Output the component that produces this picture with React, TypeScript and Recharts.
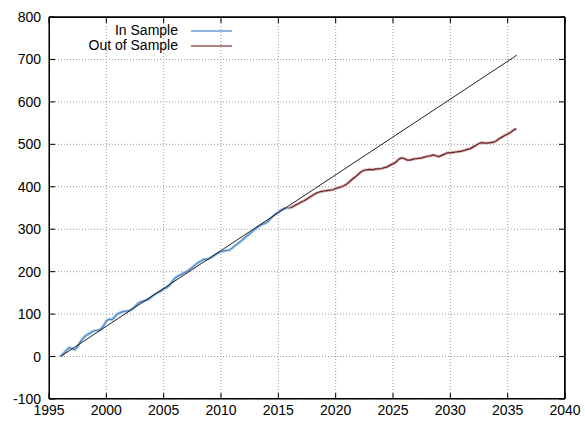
import { ComposedChart, Line, XAxis, YAxis, CartesianGrid, ReferenceLine } from "recharts";

const xTicks = [1995, 2000, 2005, 2010, 2015, 2020, 2025, 2030, 2035, 2040];
const yTicks = [-100, 0, 100, 200, 300, 400, 500, 600, 700, 800];

const inSampleYears = [
  1996.0, 1996.25, 1996.5, 1996.75, 1997.0, 1997.25, 1997.5, 1997.75, 1998.0, 1998.25, 1998.5, 1998.75,
  1999.0, 1999.25, 1999.5, 1999.75, 2000.0, 2000.25, 2000.5, 2000.75, 2001.0, 2001.25, 2001.5, 2001.75,
  2002.0, 2002.25, 2002.5, 2002.75, 2003.0, 2003.25, 2003.5, 2003.75, 2004.0, 2004.25, 2004.5, 2004.75,
  2005.0, 2005.25, 2005.5, 2005.75, 2006.0, 2006.25, 2006.5, 2006.75, 2007.0, 2007.25, 2007.5, 2007.75,
  2008.0, 2008.25, 2008.5, 2008.75, 2009.0, 2009.25, 2009.5, 2009.75, 2010.0, 2010.25, 2010.5, 2010.75,
  2011.0, 2011.25, 2011.5, 2011.75, 2012.0, 2012.25, 2012.5, 2012.75, 2013.0, 2013.25, 2013.5, 2013.75,
  2014.0, 2014.25, 2014.5, 2014.75, 2015.0, 2015.25, 2015.5, 2015.75, 2016.0,
];
const inSampleValues = [
  0, 7, 14, 21, 19, 16, 24, 35, 44, 50, 54, 58,
  61, 62, 64, 72, 84, 88, 87, 94, 101, 104, 106, 107,
  108, 112, 118, 125, 129, 131, 133, 136, 142, 147, 151, 154,
  159, 162, 168, 177, 185, 190, 193, 197, 200, 205, 210, 216,
  221, 225, 229, 229, 231, 235, 240, 244, 247, 249, 250, 251,
  256, 262, 267, 272, 278, 284, 289, 295, 301, 306, 310, 313,
  316, 323, 330, 336, 340, 345, 349, 350, 350,
];

const outSampleYears = [
  2016.0, 2016.25, 2016.5, 2016.75, 2017.0, 2017.25, 2017.5, 2017.75, 2018.0, 2018.25, 2018.5, 2018.75,
  2019.0, 2019.25, 2019.5, 2019.75, 2020.0, 2020.25, 2020.5, 2020.75, 2021.0, 2021.25, 2021.5, 2021.75,
  2022.0, 2022.25, 2022.5, 2022.75, 2023.0, 2023.25, 2023.5, 2023.75, 2024.0, 2024.25, 2024.5, 2024.75,
  2025.0, 2025.25, 2025.5, 2025.75, 2026.0, 2026.25, 2026.5, 2026.75, 2027.0, 2027.25, 2027.5, 2027.75,
  2028.0, 2028.25, 2028.5, 2028.75, 2029.0, 2029.25, 2029.5, 2029.75, 2030.0, 2030.25, 2030.5, 2030.75,
  2031.0, 2031.25, 2031.5, 2031.75, 2032.0, 2032.25, 2032.5, 2032.75, 2033.0, 2033.25, 2033.5, 2033.75,
  2034.0, 2034.25, 2034.5, 2034.75, 2035.0, 2035.25, 2035.5, 2035.75,
];
const outSampleValues = [
  350, 353, 357, 360, 364, 367, 371, 376, 380, 384, 387, 389,
  390, 391, 392, 393, 396, 398, 400, 403, 407, 413, 419, 424,
  430, 436, 439, 440, 441, 440, 442, 442, 443, 445, 447, 451,
  454, 458, 465, 468, 466, 463, 463, 465, 466, 467, 468, 470,
  472, 473, 475, 473, 471, 474, 477, 480, 480, 481, 482, 483,
  484, 486, 488, 490, 494, 498, 502, 504, 503, 503, 504, 505,
  508, 513, 517, 521, 524, 528, 533, 537,
];

// straight reference line
const trendYears = [1996.0, 2035.8];
const trendValues = [0, 710];

const inSample = inSampleYears.map((x, i) => ({ x, y: inSampleValues[i] }));
const outSample = outSampleYears.map((x, i) => ({ x, y: outSampleValues[i] }));
const trend = trendYears.map((x, i) => ({ x, y: trendValues[i] }));

const FONT = "'Liberation Sans', Arial, Helvetica, sans-serif";
const labelStyle = { fill: "#000", fontSize: 14, fontFamily: FONT };

const legendItems = [
  { label: "In Sample", color: "#8db4e2" },
  { label: "Out of Sample", color: "#a98585" },
];

const LegendBox = () => (
  <div style={{ position: "absolute", left: 0, top: 0, width: 300, height: 60, fontFamily: FONT, fontSize: 14 }}>
    {legendItems.map((item, i) => (
      <div key={item.label} style={{ position: "absolute", left: 60, top: 23 + i * 15, width: 172, height: 15 }}>
        <div style={{ position: "absolute", right: 54, top: 0, lineHeight: "15px", whiteSpace: "nowrap" }}>
          {item.label}
        </div>
        <div style={{ position: "absolute", right: 0, top: 7, width: 41, borderTop: `2px solid ${item.color}` }} />
      </div>
    ))}
  </div>
);

// plot frame (gnuplot-style box around the plotting area)
const Frame = () => (
  <svg width={585} height={423} style={{ position: "absolute", left: 0, top: 0, pointerEvents: "none" }}>
    <rect x={49.5} y={17.5} width={515} height={381} fill="none" stroke="#000" strokeWidth={1} />
  </svg>
);

export default function App() {
  return (
    <div style={{ position: "absolute", left: 0, top: 0, width: 585, height: 423, background: "#fff" }}>
      <ComposedChart width={585} height={423} margin={{ top: 7, right: 0, bottom: 0, left: 0 }}>
        <CartesianGrid stroke="#999" strokeDasharray="1 2" xAxisId="bottom" yAxisId="left" />
        <XAxis
          xAxisId="bottom"
          dataKey="x"
          type="number"
          domain={[1995, 2040]}
          ticks={xTicks}
          height={24}
          stroke="#000"
          tickSize={-6}
          tickMargin={12}
          tick={labelStyle}
        />
        <XAxis
          xAxisId="top"
          orientation="top"
          dataKey="x"
          type="number"
          domain={[1995, 2040]}
          ticks={xTicks}
          height={10}
          stroke="#000"
          tickSize={-6}
          tickFormatter={() => ""}
        />
        <YAxis
          yAxisId="left"
          type="number"
          domain={[-100, 800]}
          ticks={yTicks}
          width={49}
          stroke="#000"
          tickSize={-6}
          tickMargin={14}
          tick={labelStyle}
        />
        <YAxis
          yAxisId="right"
          orientation="right"
          type="number"
          domain={[-100, 800]}
          ticks={yTicks}
          width={20}
          stroke="#000"
          tickSize={-6}
          tickFormatter={() => ""}
        />
        <ReferenceLine xAxisId="bottom" yAxisId="left" x={2040} stroke="#000" strokeWidth={1} />
        <ReferenceLine xAxisId="bottom" yAxisId="left" y={800} stroke="#000" strokeWidth={1} />
        {/* soft halo under each series, bound to the mirrored axes */}
        <Line
          xAxisId="top"
          yAxisId="right"
          data={inSample}
          dataKey="y"
          stroke="#b3cff0"
          strokeWidth={3}
          dot={false}
          isAnimationActive={false}
        />
        <Line
          xAxisId="top"
          yAxisId="right"
          data={outSample}
          dataKey="y"
          stroke="#d8baba"
          strokeWidth={3}
          dot={false}
          isAnimationActive={false}
        />
        <Line
          xAxisId="bottom"
          yAxisId="left"
          data={inSample}
          dataKey="y"
          name="In Sample"
          stroke="#4a86c8"
          strokeWidth={1.2}
          dot={false}
          isAnimationActive={false}
        />
        <Line
          xAxisId="bottom"
          yAxisId="left"
          data={outSample}
          dataKey="y"
          name="Out of Sample"
          stroke="#6e1f1f"
          strokeWidth={1.2}
          dot={false}
          isAnimationActive={false}
        />
        <Line
          xAxisId="bottom"
          yAxisId="left"
          data={trend}
          dataKey="y"
          stroke="#222"
          strokeWidth={1}
          dot={false}
          isAnimationActive={false}
        />
      </ComposedChart>
      <Frame />
      <LegendBox />
    </div>
  );
}
